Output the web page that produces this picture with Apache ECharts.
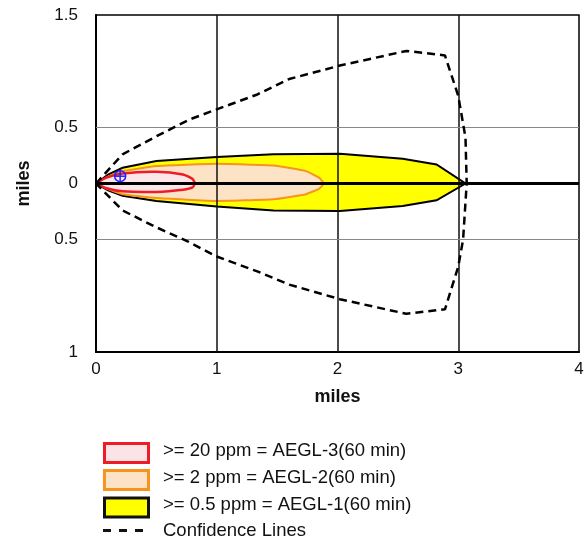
<!DOCTYPE html>
<html>
<head>
<meta charset="utf-8">
<script src="https://cdn.jsdelivr.net/npm/echarts@6/dist/echarts.min.js"></script>
<style>
html,body{margin:0;padding:0;background:#fff;}
#chart{width:587px;height:538px;}
</style>
</head>
<body>
<div id="chart"></div>
<script>
// ---- data (miles downwind, miles crosswind) ----
const xTicks = [0, 1, 2, 3, 4];
const yTickLabels = {'1.5':'1.5','0.5':'0.5','0':'0','-0.5':'0.5','-1.5':'1'};

const aegl1Top = [[0,0],[0.1,0.08],[0.22,0.14],[0.5,0.2],[1.0,0.235],[1.47,0.26],[2.02,0.265],[2.54,0.22],[2.82,0.17],[3.06,0]];
const aegl1Bottom = [[3.06,0],[2.82,-0.15],[2.54,-0.2],[2.02,-0.245],[1.47,-0.24],[1.0,-0.205],[0.5,-0.155],[0.22,-0.11],[0.1,-0.06],[0,0]];

const aegl2Top = [[0,0],[0.1,0.06],[0.22,0.11],[0.5,0.155],[1.0,0.175],[1.47,0.16],[1.74,0.11],[1.85,0.05],[1.89,0]];
const aegl2Bottom = [[1.89,0],[1.85,-0.045],[1.74,-0.095],[1.47,-0.14],[1.0,-0.155],[0.5,-0.13],[0.22,-0.095],[0.1,-0.05],[0,0]];

const aegl3Top = [[0,0],[0.08,0.05],[0.22,0.09],[0.5,0.105],[0.72,0.08],[0.8,0.04],[0.82,0]];
const aegl3Bottom = [[0.82,0],[0.8,-0.035],[0.72,-0.055],[0.5,-0.075],[0.22,-0.07],[0.08,-0.04],[0,0]];

const confTop = [[0,0],[0.22,0.26],[0.5,0.42],[0.775,0.57],[1.0,0.66],[1.33,0.79],[1.6,0.93],[2.02,1.05],[2.57,1.18],[2.89,1.14],[3.0,0.78],[3.06,0.41],[3.07,0]];
const confBottom = [[3.07,0],[3.04,-0.5],[3.0,-0.74],[2.89,-1.12],[2.57,-1.16],[2.02,-1.03],[1.6,-0.9],[1.33,-0.78],[1.0,-0.65],[0.75,-0.51],[0.5,-0.39],[0.22,-0.24],[0,0]];

const centerline = [[0,0],[4,0]];
const source = [[0.2,0.065]];
const vGrid = [1, 2, 3];
const hGrid = [0.5, -0.5];

const legendItems = ['>= 20 ppm = AEGL-3(60 min)', '>= 2 ppm = AEGL-2(60 min)', '>= 0.5 ppm = AEGL-1(60 min)', 'Confidence Lines'];

const FONT = 'Liberation Sans, Arial, Helvetica, sans-serif';

function zoneSeries(top, bottom, fill, stroke, width, smooth, z) {
  const pts = top.concat(bottom);
  return {
    type: 'custom',
    z: z,
    silent: true,
    data: [0],
    clip: true,
    renderItem: function (params, api) {
      const poly = pts.map(p => api.coord(p));
      return {
        type: 'polygon',
        shape: { points: poly, smooth: smooth },
        style: { fill: fill, stroke: stroke, lineWidth: width }
      };
    }
  };
}

const chart = echarts.init(document.getElementById('chart'), null, {renderer: 'canvas'});

const option = {
  animation: false,
  grid: { left: 96, right: 8, top: 15, bottom: 186, show: true, borderColor: '#000', borderWidth: 1.5, backgroundColor: 'transparent' },
  xAxis: {
    type: 'value', min: 0, max: 4, interval: 1,
    name: 'miles', nameLocation: 'middle', nameGap: 36,
    nameTextStyle: { fontFamily: FONT, fontSize: 18, fontWeight: 'bold', color: '#111' },
    axisLine: { show: true, onZero: false, lineStyle: { color: '#000', width: 2 } },
    axisTick: { show: false },
    splitLine: { show: false },
    axisLabel: { fontFamily: FONT, fontSize: 17, color: '#111', margin: 9,
      formatter: v => xTicks.includes(v) ? String(v) : '' }
  },
  yAxis: {
    type: 'value', min: -1.5, max: 1.5, interval: 0.5,
    name: 'miles', nameLocation: 'middle', nameGap: 63, nameRotate: 90,
    nameTextStyle: { fontFamily: FONT, fontSize: 18, fontWeight: 'bold', color: '#111' },
    axisLine: { show: true, onZero: false, lineStyle: { color: '#000', width: 2 } },
    axisTick: { show: false },
    splitLine: { show: false },
    axisLabel: { fontFamily: FONT, fontSize: 17, color: '#111', margin: 18,
      formatter: v => { const k = String(Math.round(v*10)/10); return yTickLabels[k] !== undefined ? yTickLabels[k] : ''; } }
  },
  series: [
    zoneSeries(aegl1Top, aegl1Bottom, '#ffff00', '#000', 2, 0, 2),
    zoneSeries(aegl2Top, aegl2Bottom, '#fde3c6', '#f7941d', 2, 0.12, 3),
    zoneSeries(aegl3Top, aegl3Bottom, '#fbe6e9', '#ee1c25', 2.5, 0.2, 4),
    {
      type: 'line', z: 6, silent: true, symbol: 'none',
      data: centerline,
      lineStyle: { color: '#000', width: 3 },
      markLine: {
        silent: true, symbol: 'none', label: { show: false },
        data: vGrid.map(v => ({ xAxis: v, lineStyle: { color: '#111', width: 1.5, type: 'solid' } }))
          .concat(hGrid.map(v => ({ yAxis: v, lineStyle: { color: '#888', width: 1.2, type: 'solid' } })))
      }
    },
    {
      type: 'line', z: 7, silent: true, symbol: 'none',
      data: confTop.concat(confBottom),
      lineStyle: { color: '#000', width: 2.5, type: [8, 5] }
    },
    {
      type: 'custom', z: 8, silent: true,
      data: source,
      renderItem: function (params, api) {
        const c = api.coord([api.value(0), api.value(1)]);
        const r = 5.5;
        const st = { stroke: '#1f1fff', lineWidth: 1.5, fill: null };
        return {
          type: 'group',
          children: [
            { type: 'circle', shape: { cx: c[0], cy: c[1], r: r }, style: st },
            { type: 'line', shape: { x1: c[0]-r, y1: c[1], x2: c[0]+r, y2: c[1] }, style: st },
            { type: 'line', shape: { x1: c[0], y1: c[1]-r, x2: c[0], y2: c[1]+r }, style: st }
          ]
        };
      }
    }
  ],
  graphic: [
    { type: 'rect', left: 103, top: 442, shape: { width: 44, height: 19 }, style: { fill: '#fbe3e6', stroke: '#ee1c25', lineWidth: 3 } },
    { type: 'rect', left: 103, top: 469, shape: { width: 44, height: 19 }, style: { fill: '#fde3c6', stroke: '#f7941d', lineWidth: 3 } },
    { type: 'rect', left: 103, top: 496.5, shape: { width: 44, height: 19 }, style: { fill: '#ffff00', stroke: '#111', lineWidth: 3 } },
    { type: 'line', shape: { x1: 103, y1: 530.5, x2: 144, y2: 530.5 }, style: { stroke: '#111', lineWidth: 3, lineDash: [8, 8] } },
    { type: 'text', x: 163, y: 451, style: { text: legendItems[0], fontFamily: FONT, fontSize: 18.5, fill: '#111', textVerticalAlign: 'middle', verticalAlign: 'middle' } },
    { type: 'text', x: 163, y: 477.5, style: { text: legendItems[1], fontFamily: FONT, fontSize: 18.5, fill: '#111', textVerticalAlign: 'middle', verticalAlign: 'middle' } },
    { type: 'text', x: 163, y: 504.5, style: { text: legendItems[2], fontFamily: FONT, fontSize: 18.5, fill: '#111', textVerticalAlign: 'middle', verticalAlign: 'middle' } },
    { type: 'text', x: 163, y: 530.5, style: { text: legendItems[3], fontFamily: FONT, fontSize: 18.5, fill: '#111', textVerticalAlign: 'middle', verticalAlign: 'middle' } }
  ]
};
chart.setOption(option);
</script>
</body>
</html>
